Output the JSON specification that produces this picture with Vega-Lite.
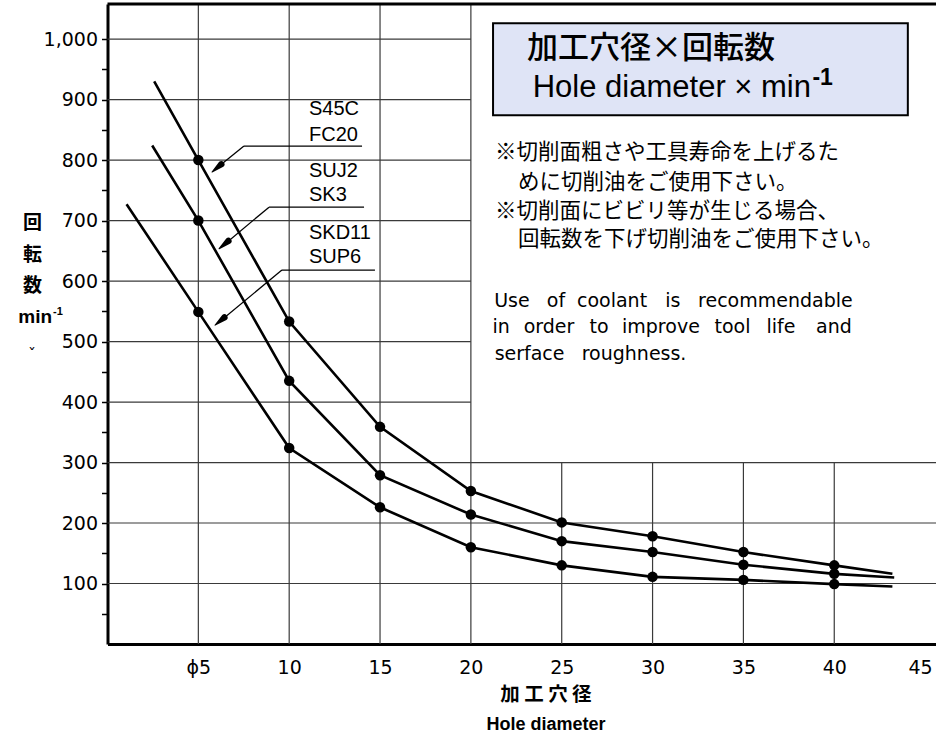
{
  "$schema": "https://vega.github.io/schema/vega-lite/v6.json",
  "width": 828.5,
  "height": 640,
  "autosize": {"type": "none"},
  "padding": {"left": 107.5, "top": 4, "right": 0, "bottom": 96},
  "background": "white",
  "config": {"view": {"stroke": null}},
  "datasets": {
    "series": [
      {"series": "S45C FC20", "x": 2.57, "y": 930},
      {"series": "S45C FC20", "x": 5, "y": 800},
      {"series": "S45C FC20", "x": 10, "y": 533},
      {"series": "S45C FC20", "x": 15, "y": 359},
      {"series": "S45C FC20", "x": 20, "y": 253},
      {"series": "S45C FC20", "x": 25, "y": 201},
      {"series": "S45C FC20", "x": 30, "y": 178},
      {"series": "S45C FC20", "x": 35, "y": 152},
      {"series": "S45C FC20", "x": 40, "y": 130},
      {"series": "S45C FC20", "x": 43.2, "y": 116},
      {"series": "SUJ2 SK3", "x": 2.46, "y": 824},
      {"series": "SUJ2 SK3", "x": 5, "y": 700},
      {"series": "SUJ2 SK3", "x": 10, "y": 435},
      {"series": "SUJ2 SK3", "x": 15, "y": 279},
      {"series": "SUJ2 SK3", "x": 20, "y": 214},
      {"series": "SUJ2 SK3", "x": 25, "y": 170},
      {"series": "SUJ2 SK3", "x": 30, "y": 152},
      {"series": "SUJ2 SK3", "x": 35, "y": 131},
      {"series": "SUJ2 SK3", "x": 40, "y": 116},
      {"series": "SUJ2 SK3", "x": 43.3, "y": 110},
      {"series": "SKD11 SUP6", "x": 1.05, "y": 727},
      {"series": "SKD11 SUP6", "x": 5, "y": 549},
      {"series": "SKD11 SUP6", "x": 10, "y": 324},
      {"series": "SKD11 SUP6", "x": 15, "y": 226},
      {"series": "SKD11 SUP6", "x": 20, "y": 160},
      {"series": "SKD11 SUP6", "x": 25, "y": 130},
      {"series": "SKD11 SUP6", "x": 30, "y": 111},
      {"series": "SKD11 SUP6", "x": 35, "y": 106},
      {"series": "SKD11 SUP6", "x": 40, "y": 99},
      {"series": "SKD11 SUP6", "x": 43.2, "y": 95}
    ],
    "grid": [
      {"x": 0, "x2": 45.6, "y": 100, "y2": 100},
      {"x": 0, "x2": 45.6, "y": 200, "y2": 200},
      {"x": 0, "x2": 45.6, "y": 300, "y2": 300},
      {"x": 0, "x2": 20, "y": 400, "y2": 400},
      {"x": 0, "x2": 20, "y": 500, "y2": 500},
      {"x": 0, "x2": 20, "y": 600, "y2": 600},
      {"x": 0, "x2": 20, "y": 700, "y2": 700},
      {"x": 0, "x2": 20, "y": 800, "y2": 800},
      {"x": 0, "x2": 20, "y": 900, "y2": 900},
      {"x": 0, "x2": 20, "y": 1000, "y2": 1000},
      {"x": 5, "x2": 5, "y": 0, "y2": 1058},
      {"x": 10, "x2": 10, "y": 0, "y2": 1058},
      {"x": 15, "x2": 15, "y": 0, "y2": 1058},
      {"x": 20, "x2": 20, "y": 0, "y2": 1058},
      {"x": 25, "x2": 25, "y": 0, "y2": 300},
      {"x": 30, "x2": 30, "y": 0, "y2": 300},
      {"x": 35, "x2": 35, "y": 0, "y2": 300},
      {"x": 40, "x2": 40, "y": 0, "y2": 300}
    ],
    "frame": [
      {"x": 0, "x2": 45.6, "y": 1058, "y2": 1058}
    ],
    "leaders": [
      {"x": 7.51, "x2": 14.01, "y": 823.1, "y2": 823.1},
      {"x": 7.51, "x2": 6.1, "y": 823.1, "y2": 788.8},
      {"x": 8.89, "x2": 14.12, "y": 722.2, "y2": 722.2},
      {"x": 8.89, "x2": 6.5, "y": 722.2, "y2": 662.2},
      {"x": 9.6, "x2": 14.72, "y": 618.1, "y2": 618.1},
      {"x": 9.6, "x2": 6.28, "y": 618.1, "y2": 535.8}
    ],
    "arrowheads": [
      {"arrow": "S45C", "part": "tip", "x": 5.75, "y": 780.2},
      {"arrow": "S45C", "part": "base", "x": 6.26, "y": 792.9},
      {"arrow": "SUJ2", "part": "tip", "x": 6.14, "y": 653.4},
      {"arrow": "SUJ2", "part": "base", "x": 6.65, "y": 666.1},
      {"arrow": "SKD11", "part": "tip", "x": 5.92, "y": 527.1},
      {"arrow": "SKD11", "part": "base", "x": 6.43, "y": 539.8}
    ],
    "box": [
      {"x": 21.22, "x2": 44.05, "y": 1026.1, "y2": 874.0}
    ],
    "materials": [
      {"text": "S45C", "x": 11.09, "y": 884},
      {"text": "FC20", "x": 11.09, "y": 842},
      {"text": "SUJ2", "x": 11.09, "y": 782},
      {"text": "SK3", "x": 11.09, "y": 742},
      {"text": "SKD11", "x": 11.09, "y": 680},
      {"text": "SUP6", "x": 11.09, "y": 640}
    ],
    "notesJP": [
      {"text": "※切削面粗さや工具寿命を上げるた", "x": 21.33, "y": 811},
      {"text": "めに切削油をご使用下さい。", "x": 22.59, "y": 762.7},
      {"text": "※切削面にビビリ等が生じる場合、", "x": 21.33, "y": 714.5},
      {"text": "回転数を下げ切削油をご使用下さい。", "x": 22.59, "y": 667.7}
    ],
    "notesEN": [
      {"text": "Use", "x": 22.26, "y": 557.4},
      {"text": "of", "x": 24.68, "y": 557.4},
      {"text": "coolant", "x": 27.77, "y": 557.4},
      {"text": "is", "x": 31.12, "y": 557.4},
      {"text": "recommendable", "x": 36.76, "y": 557.4},
      {"text": "in", "x": 21.66, "y": 513.4},
      {"text": "order", "x": 24.3, "y": 513.4},
      {"text": "to", "x": 27.05, "y": 513.4},
      {"text": "improve", "x": 30.46, "y": 513.4},
      {"text": "tool", "x": 34.4, "y": 513.4},
      {"text": "life", "x": 37.07, "y": 513.4},
      {"text": "and", "x": 39.98, "y": 513.4},
      {"text": "serface", "x": 23.23, "y": 469.2},
      {"text": "roughness.", "x": 28.98, "y": 469.2}
    ],
    "title1": [{"text": "加工穴径×回転数", "x": 23.09, "y": 983.5}],
    "title2": [{"text": "Hole diameter × min", "x": 38.72, "y": 904.1}],
    "title2sup": [{"text": "-1", "x": 38.8, "y": 935.5}],
    "ytitleJP": [
      {"text": "回", "x": -4.13, "y": 695.8},
      {"text": "転", "x": -4.13, "y": 642.9},
      {"text": "数", "x": -4.13, "y": 591.6}
    ],
    "ytitleMin": [{"text": "min", "x": -3.05, "y": 530.4}],
    "ytitleSup": [{"text": "-1", "x": -3.0, "y": 548.6}],
    "ytitleCaret": [{"text": "ˇ", "x": -4.16, "y": 478}],
    "xtitleJP": [{"text": "加 工 穴 径", "x": 24.13, "y": -84.7}],
    "xtitleEN": [{"text": "Hole diameter", "x": 24.13, "y": -134.3}]
  },
  "encoding": {
    "x": {
      "field": "x", "type": "quantitative",
      "scale": {"domain": [0, 45.6], "nice": false, "zero": false},
      "axis": {
        "title": null,
        "values": [5, 10, 15, 20, 25, 30, 35, 40, 45],
        "labelExpr": "datum.value == 5 ? 'ϕ5' : format(datum.value, 'd')",
        "ticks": false, "grid": false,
        "domainColor": "black", "domainWidth": 3,
        "labelFont": "DejaVu Sans", "labelFontSize": 19, "labelColor": "black",
        "labelPadding": 14, "labelFlush": 12, "labelFlushOffset": 7, "labelOverlap": false
      }
    },
    "y": {
      "field": "y", "type": "quantitative",
      "scale": {"domain": [0, 1058], "nice": false, "zero": false},
      "axis": {
        "title": null,
        "values": [50, 100, 150, 200, 250, 300, 350, 400, 450, 500, 550, 600, 650, 700, 750, 800, 850, 900, 950, 1000],
        "labelExpr": "datum.value % 100 == 0 ? format(datum.value, ',') : ''",
        "tickSize": 6, "tickWidth": 1.5, "tickColor": "black",
        "grid": false,
        "domainColor": "black", "domainWidth": 3,
        "labelFont": "DejaVu Sans", "labelFontSize": 19, "labelColor": "black",
        "labelPadding": 4, "labelOverlap": false
      }
    }
  },
  "layer": [
    {
      "data": {"name": "grid"},
      "mark": {"type": "rule", "color": "#3a3a3a", "strokeWidth": 1.2},
      "encoding": {"x2": {"field": "x2"}, "y2": {"field": "y2"}}
    },
    {
      "data": {"name": "frame"},
      "mark": {"type": "rule", "color": "black", "strokeWidth": 3},
      "encoding": {"x2": {"field": "x2"}, "y2": {"field": "y2"}}
    },
    {
      "data": {"name": "series"},
      "mark": {"type": "line", "color": "black", "strokeWidth": 2.6},
      "encoding": {"detail": {"field": "series"}}
    },
    {
      "data": {"name": "series"},
      "transform": [{"filter": "datum.x >= 5 && datum.x <= 40"}],
      "mark": {"type": "circle", "color": "black", "size": 110, "opacity": 1},
      "encoding": {}
    },
    {
      "data": {"name": "leaders"},
      "mark": {"type": "rule", "color": "black", "strokeWidth": 1.3},
      "encoding": {"x2": {"field": "x2"}, "y2": {"field": "y2"}}
    },
    {
      "data": {"name": "arrowheads"},
      "mark": {"type": "trail", "color": "black", "opacity": 1},
      "encoding": {
        "detail": {"field": "arrow"},
        "size": {"field": "part", "type": "ordinal", "scale": {"domain": ["tip", "base"], "range": [0, 6.5]}, "legend": null}
      }
    },
    {
      "data": {"name": "box"},
      "mark": {"type": "rect", "fill": "#dfe4f6", "stroke": "black", "strokeWidth": 2},
      "encoding": {"x2": {"field": "x2"}, "y2": {"field": "y2"}}
    },
    {
      "data": {"name": "materials"},
      "mark": {"type": "text", "font": "Liberation Sans", "fontSize": 20, "align": "left", "baseline": "middle", "color": "black"},
      "encoding": {"text": {"field": "text"}}
    },
    {
      "data": {"name": "notesJP"},
      "mark": {"type": "text", "font": "Noto Sans CJK JP", "fontSize": 21.5, "align": "left", "baseline": "middle", "color": "black"},
      "encoding": {"text": {"field": "text"}}
    },
    {
      "data": {"name": "notesEN"},
      "mark": {"type": "text", "font": "DejaVu Sans", "fontSize": 19, "align": "center", "baseline": "alphabetic", "color": "black"},
      "encoding": {"text": {"field": "text"}}
    },
    {
      "data": {"name": "title1"},
      "mark": {"type": "text", "font": "Noto Sans CJK JP", "fontSize": 31, "fontWeight": 500, "align": "left", "baseline": "middle", "color": "black"},
      "encoding": {"text": {"field": "text"}}
    },
    {
      "data": {"name": "title2"},
      "mark": {"type": "text", "font": "Liberation Sans", "fontSize": 31, "align": "right", "baseline": "alphabetic", "color": "black"},
      "encoding": {"text": {"field": "text"}}
    },
    {
      "data": {"name": "title2sup"},
      "mark": {"type": "text", "font": "Liberation Sans", "fontSize": 23, "fontWeight": "bold", "align": "left", "baseline": "middle", "color": "black"},
      "encoding": {"text": {"field": "text"}}
    },
    {
      "data": {"name": "ytitleJP"},
      "mark": {"type": "text", "font": "Noto Sans CJK JP", "fontSize": 19, "fontWeight": "bold", "align": "center", "baseline": "middle", "color": "black"},
      "encoding": {"text": {"field": "text"}}
    },
    {
      "data": {"name": "ytitleMin"},
      "mark": {"type": "text", "font": "Liberation Sans", "fontSize": 19, "fontWeight": "bold", "align": "right", "baseline": "alphabetic", "color": "black"},
      "encoding": {"text": {"field": "text"}}
    },
    {
      "data": {"name": "ytitleSup"},
      "mark": {"type": "text", "font": "Liberation Sans", "fontSize": 11, "fontWeight": "bold", "align": "left", "baseline": "middle", "color": "black"},
      "encoding": {"text": {"field": "text"}}
    },
    {
      "data": {"name": "ytitleCaret"},
      "mark": {"type": "text", "font": "DejaVu Sans", "fontSize": 16, "align": "center", "baseline": "middle", "color": "black"},
      "encoding": {"text": {"field": "text"}}
    },
    {
      "data": {"name": "xtitleJP"},
      "mark": {"type": "text", "font": "Noto Sans CJK JP", "fontSize": 19.5, "fontWeight": "bold", "align": "center", "baseline": "middle", "color": "black"},
      "encoding": {"text": {"field": "text"}}
    },
    {
      "data": {"name": "xtitleEN"},
      "mark": {"type": "text", "font": "Liberation Sans", "fontSize": 18, "fontWeight": "bold", "align": "center", "baseline": "middle", "color": "black"},
      "encoding": {"text": {"field": "text"}}
    }
  ]
}
